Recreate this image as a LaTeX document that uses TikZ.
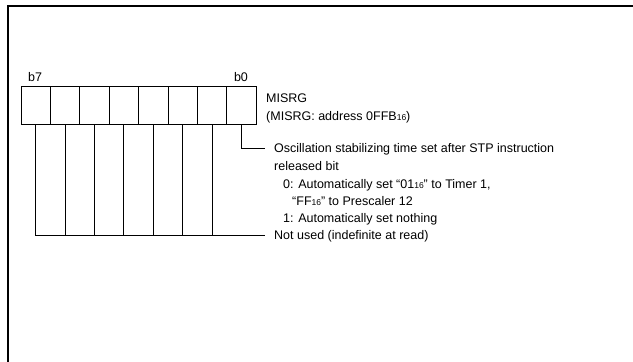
\documentclass[tikz,border=0pt]{standalone}
\usepackage{fontspec}
\setmainfont{Liberation Sans}
\newcommand{\subsix}[1]{{\fontsize{8.5}{9}\selectfont #1}}
\begin{document}
\begin{tikzpicture}[x=1pt,y=-1pt,
  cell/.style={draw, line width=1pt, minimum width=29.4pt, minimum height=38pt, inner sep=0pt, anchor=north west},
  txt/.style={anchor=base west, inner sep=0pt, font=\fontsize{12.5}{14}\selectfont},
  lbl/.style={anchor=base, inner sep=0pt, font=\fontsize{12.5}{14}\selectfont},
  wire/.style={line width=1pt},
  frame/.style={line width=2pt}]
\useasboundingbox (0,0) rectangle (633,362);
% frame
\coordinate (fbl) at (8,363);
\coordinate (ftl) at (8,6);
\coordinate (ftr) at (634,6);
\draw[frame] (fbl) -- (ftl) -- (ftr);
% register cells
\foreach \i/\x in {7/20.5,6/49.9,5/79.3,4/108.7,3/138.1,2/167.5,1/196.9,0/226.3}
  \node[cell] (c\i) at (\x,86) {};
\node[lbl] (b7) at (35.2,81.5) {b7};
\node[lbl] (b0) at (241,81.5) {b0};
% texts
\node[txt] (misrg) at (266,102.5) {MISRG};
\node[txt] (addr) at (266,120.5) {(MISRG: address 0FFB\subsix{16})};
\node[txt] (osc) at (274,152.5) {Oscillation stabilizing time set after STP instruction};
\node[txt] (rel) at (274,170.5) {released bit};
\node[txt] (zero) at (283,188.5) {0: Automatically set “01\subsix{16}” to Timer 1,};
\node[txt] (ff) at (292,205.5) {“FF\subsix{16}” to Prescaler 12};
\node[txt] (one) at (283,222.5) {1: Automatically set nothing};
\node[txt] (nu) at (274,239.5) {Not used (indefinite at read)};
% connectors
\coordinate (e0) at (265,148);
\coordinate (enu) at (265,235);
\draw[wire] (c0.south) |- (e0);
\draw[wire] (c7.south) |- (enu);
\foreach \i in {6,5,4,3,2,1}
  \draw[wire] (c\i.south) -- (c\i.south |- enu);
\end{tikzpicture}
\end{document}
